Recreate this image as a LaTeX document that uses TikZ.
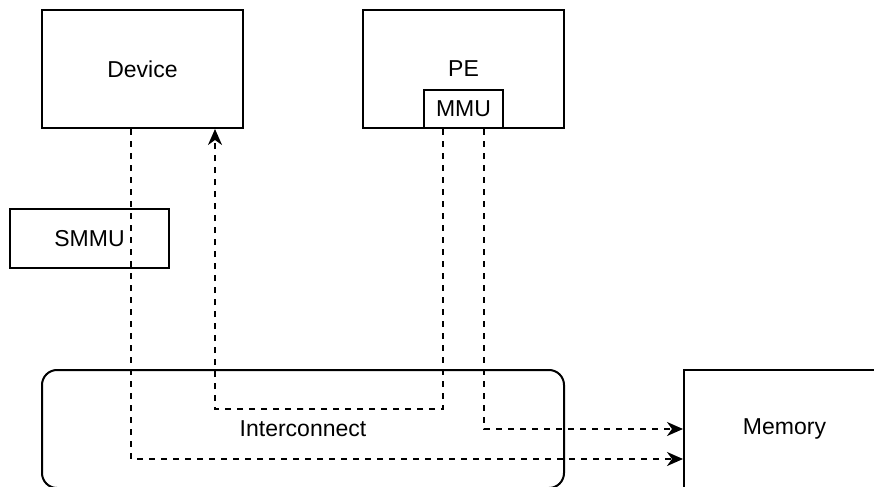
\documentclass[tikz,border=0pt]{standalone}
\usepackage{fontspec}
\setmainfont{Liberation Sans}
\usetikzlibrary{arrows.meta, positioning}
\tikzset{%
	box/.style={draw, rectangle, line width=1pt, inner sep=0pt,%
		minimum width=100.5pt, minimum height=59pt,%
		font=\fontsize{11.5}{13.8}\selectfont},
	bus/.style={box, rounded corners=7.5pt, minimum width=261pt},
	link/.style={line width=1pt, dash pattern=on 3pt off 3pt,%
		-{Stealth[length=8pt, width=7pt, inset=2.5pt]}}
}
\begin{document}
\begin{tikzpicture}[x=0.5pt, y=-0.5pt]
	\clip (0,0) rectangle (874,487);
	\node[box] (device) at (142.5,69) {Device};
	\node[box, right=59pt of device] (pe) {PE};
	\node[box, minimum width=39.5pt, minimum height=19pt, anchor=south] (mmu) at (pe.south) {MMU};
	\node[box, minimum width=79.5pt, minimum height=29.5pt] (smmu) at (89.5,238.5) {SMMU};
	\node[bus] (ic) at (303,429) {Interconnect};
	\node[box, right=59pt of ic] (memory) {Memory};
	
	\draw[link] ([xshift=-5.75pt]device.south) |- ([yshift=-15pt]memory.west);
	\draw[link] ([xshift=-10.25pt]mmu.south) |- ([yshift=10pt]ic.center) -| ([xshift=36.25pt]device.south);
	\draw[link] ([xshift=10.25pt]mmu.south) |- (memory.west);
\end{tikzpicture}
\end{document}
